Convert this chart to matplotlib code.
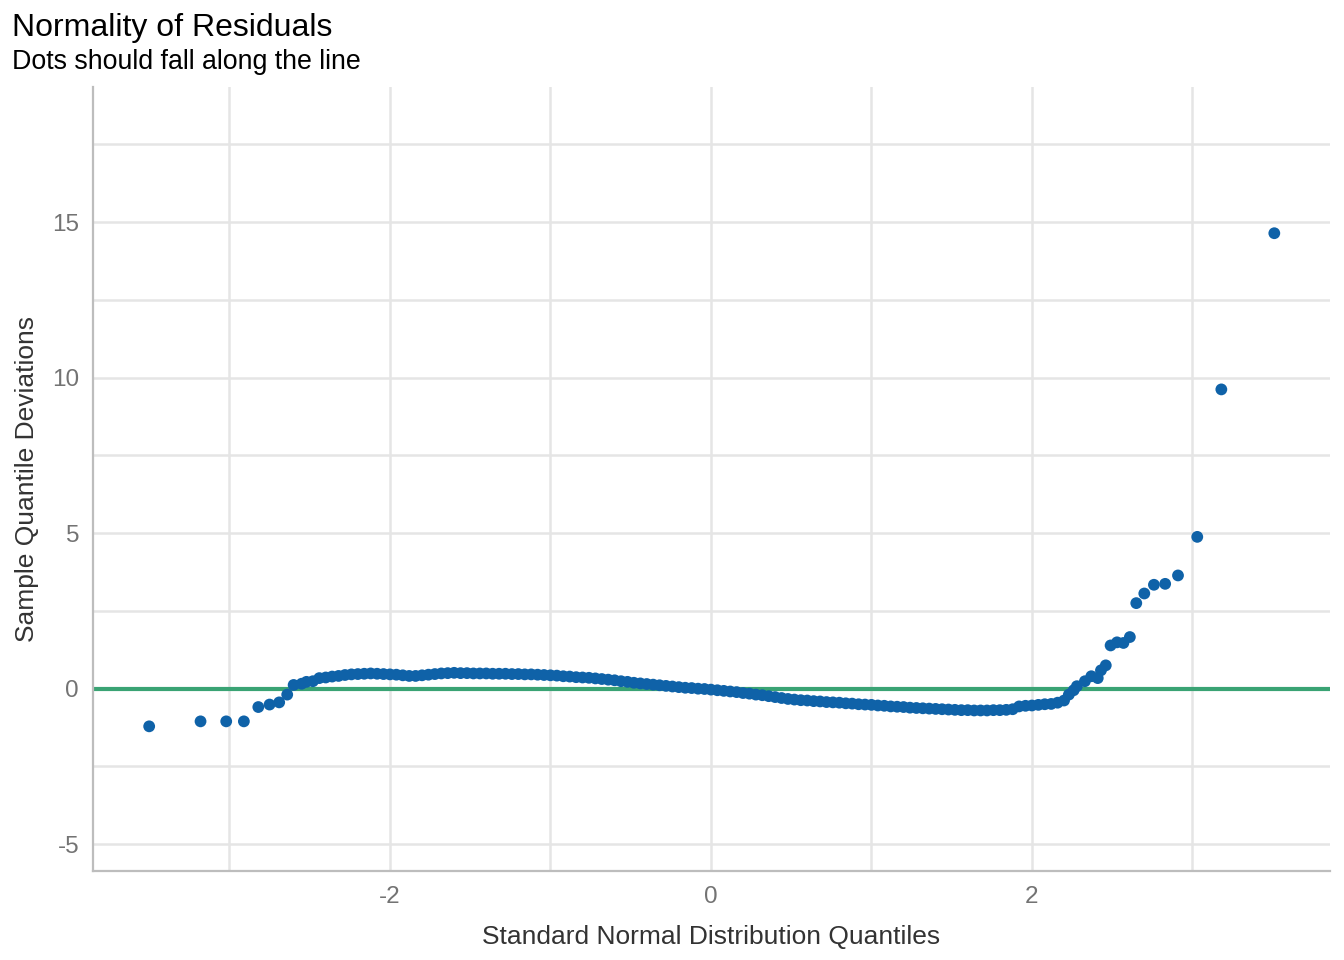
import matplotlib
matplotlib.use('Agg')
import matplotlib.pyplot as plt
from matplotlib.ticker import MultipleLocator

# left tail
left_x = [-3.50, -3.18, -3.02, -2.91, -2.82, -2.75, -2.69, -2.64, -2.60, -2.55, -2.52, -2.48]
left_y = [-1.21, -1.05, -1.05, -1.05, -0.59, -0.51, -0.44, -0.19, 0.12, 0.16, 0.22, 0.24]

# dense middle band
mid_x = [-2.44, -2.40, -2.36, -2.32, -2.28, -2.24, -2.20, -2.16, -2.12, -2.08,
         -2.04, -2.00, -1.96, -1.92, -1.88, -1.84, -1.80, -1.76, -1.72, -1.68,
         -1.64, -1.60, -1.56, -1.52, -1.48, -1.44, -1.40, -1.36, -1.32, -1.28,
         -1.24, -1.20, -1.16, -1.12, -1.08, -1.04, -1.00, -0.96, -0.92, -0.88,
         -0.84, -0.80, -0.76, -0.72, -0.68, -0.64, -0.60, -0.56, -0.52, -0.48,
         -0.44, -0.40, -0.36, -0.32, -0.28, -0.24, -0.20, -0.16, -0.12, -0.08,
         -0.04, 0.00, 0.04, 0.08, 0.12, 0.16, 0.20, 0.24, 0.28, 0.32,
         0.36, 0.40, 0.44, 0.48, 0.52, 0.56, 0.60, 0.64, 0.68, 0.72,
         0.76, 0.80, 0.84, 0.88, 0.92, 0.96, 1.00, 1.04, 1.08, 1.12,
         1.16, 1.20, 1.24, 1.28, 1.32, 1.36, 1.40, 1.44, 1.48, 1.52,
         1.56, 1.60, 1.64, 1.68, 1.72, 1.76, 1.80, 1.84, 1.88, 1.92,
         1.96, 2.00, 2.04, 2.08, 2.12, 2.16, 2.20]
mid_y = [0.34, 0.36, 0.39, 0.41, 0.44, 0.46, 0.47, 0.48, 0.49, 0.48,
         0.47, 0.46, 0.45, 0.43, 0.41, 0.41, 0.43, 0.45, 0.47, 0.49,
         0.50, 0.51, 0.50, 0.50, 0.49, 0.49, 0.49, 0.48, 0.48, 0.48,
         0.47, 0.47, 0.46, 0.46, 0.45, 0.44, 0.43, 0.42, 0.40, 0.39,
         0.37, 0.36, 0.35, 0.33, 0.31, 0.29, 0.27, 0.24, 0.22, 0.19,
         0.17, 0.15, 0.13, 0.11, 0.09, 0.07, 0.05, 0.03, 0.02, 0.00,
         -0.01, -0.03, -0.05, -0.07, -0.09, -0.11, -0.14, -0.16, -0.19, -0.21,
         -0.24, -0.27, -0.30, -0.33, -0.35, -0.37, -0.38, -0.40, -0.41, -0.43,
         -0.44, -0.45, -0.47, -0.48, -0.50, -0.51, -0.52, -0.54, -0.55, -0.57,
         -0.58, -0.59, -0.61, -0.62, -0.63, -0.64, -0.65, -0.66, -0.67, -0.68,
         -0.69, -0.69, -0.70, -0.70, -0.70, -0.69, -0.69, -0.68, -0.66, -0.57,
         -0.55, -0.54, -0.52, -0.50, -0.49, -0.45, -0.38]

# right tail
right_x = [2.23, 2.26, 2.28, 2.33, 2.37, 2.41, 2.43, 2.46, 2.49, 2.53,
           2.57, 2.61, 2.65, 2.70, 2.76, 2.83, 2.91, 3.03, 3.18, 3.51]
right_y = [-0.19, -0.05, 0.08, 0.24, 0.40, 0.34, 0.59, 0.75, 1.39, 1.49,
           1.47, 1.66, 2.75, 3.06, 3.34, 3.37, 3.64, 4.88, 9.62, 14.64]

x_vals = left_x + mid_x + right_x
y_vals = left_y + mid_y + right_y

plt.rcParams['font.family'] = ['Liberation Sans', 'DejaVu Sans']
plt.rcParams['axes.unicode_minus'] = False

fig = plt.figure(figsize=(13.44, 9.6), dpi=100)
ax = fig.add_axes([93 / 1344, 89 / 960, (1330 - 93) / 1344, (872 - 88) / 960])

ax.axhline(0, color='#3aa374', lw=3, zorder=2)
ax.scatter(x_vals, y_vals, s=72, color='#0f62a8', edgecolors='none', zorder=3)

ax.set_xlim(-3.85, 3.857)
ax.set_ylim(-5.86, 19.34)
ax.xaxis.set_major_locator(MultipleLocator(2))
ax.xaxis.set_minor_locator(MultipleLocator(1))
ax.yaxis.set_major_locator(MultipleLocator(5))
ax.yaxis.set_minor_locator(MultipleLocator(2.5))

ax.grid(True, which='both', color='#e5e5e5', lw=1.8, zorder=0)
ax.set_axisbelow(True)
for side in ['top', 'right']:
    ax.spines[side].set_visible(False)
for side in ['left', 'bottom']:
    ax.spines[side].set_color('#bdbdbd')
    ax.spines[side].set_linewidth(1.6)

ax.tick_params(which='both', length=0)
ax.tick_params(axis='y', labelsize=17.5, labelcolor='#737373', pad=10)
ax.tick_params(axis='x', labelsize=17.5, labelcolor='#737373', pad=11)
ax.set_xticklabels([f'{t:g}' for t in ax.get_xticks()])

ax.set_xlabel('Standard Normal Distribution Quantiles', fontsize=19, color='#333333', labelpad=12)
ax.set_ylabel('Sample Quantile Deviations', fontsize=19, color='#333333', labelpad=9)

fig.text(12 / 1344, 1 - 36 / 960, 'Normality of Residuals', fontsize=23, va='baseline', ha='left')
fig.text(12 / 1344, 1 - 69 / 960, 'Dots should fall along the line', fontsize=19.3, va='baseline', ha='left')

fig.savefig('out.png', dpi=100, facecolor='white')
